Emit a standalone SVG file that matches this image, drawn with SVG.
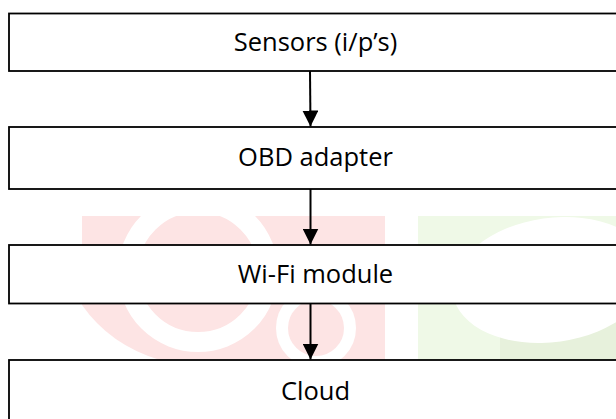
<svg xmlns="http://www.w3.org/2000/svg" width="616" height="419" viewBox="0 0 616 419">
  <defs>
    <style>
      .box { fill: #ffffff; stroke: #000000; stroke-width: 1.8; }
      .lbl { font-family: "Open Sans", "Liberation Sans", sans-serif; font-size: 25.5px; fill: #000000; text-anchor: middle; }
      .conn { stroke: #000000; stroke-width: 2; fill: none; }
    </style>
    <marker id="arrow" markerWidth="16" markerHeight="16" refX="16" refY="8" orient="auto" markerUnits="userSpaceOnUse">
      <path d="M0,0 L16,8 L0,16 Z" fill="#000000"/>
    </marker>
  </defs>
  <rect width="616" height="419" fill="#ffffff"/>
  <g id="watermark">
    <rect x="82" y="216" width="303" height="144" fill="#fde4e4"/>
    <path d="M82,305 Q110,345 160,360 L82,360 Z" fill="#ffffff"/>
    <circle cx="198" cy="272" r="70" fill="none" stroke="#ffffff" stroke-width="20"/>
    <circle cx="316" cy="328" r="34" fill="none" stroke="#ffffff" stroke-width="12"/>
    <rect x="418" y="216" width="198" height="144" fill="#eff9e7"/>
    <rect x="500" y="300" width="116" height="60" fill="#e7f1dc"/>
    <ellipse cx="552" cy="280" rx="100" ry="62" fill="#ffffff" transform="rotate(-8 552 280)"/>
  </g>
  <g id="node-sensors">
    <rect class="box" x="9" y="13.5" width="620" height="57.5"/>
    <text class="lbl" x="315.5" y="50.5">Sensors (i/p’s)</text>
  </g>
  <g id="node-obd">
    <rect class="box" x="9" y="127" width="620" height="62"/>
    <text class="lbl" x="315.5" y="165.5">OBD adapter</text>
  </g>
  <g id="node-wifi">
    <rect class="box" x="9" y="245" width="620" height="58.5"/>
    <text class="lbl" x="315.5" y="283">Wi-Fi module</text>
  </g>
  <g id="node-cloud">
    <rect class="box" x="9" y="360" width="620" height="80"/>
    <text class="lbl" x="315.5" y="400">Cloud</text>
  </g>
  <g id="connectors">
    <line class="conn" x1="310" y1="71" x2="310.5" y2="126.5" marker-end="url(#arrow)"/>
    <line class="conn" x1="310.5" y1="189" x2="310.5" y2="244.5" marker-end="url(#arrow)"/>
    <line class="conn" x1="310.5" y1="303.5" x2="310.5" y2="359.5" marker-end="url(#arrow)"/>
  </g>
</svg>
